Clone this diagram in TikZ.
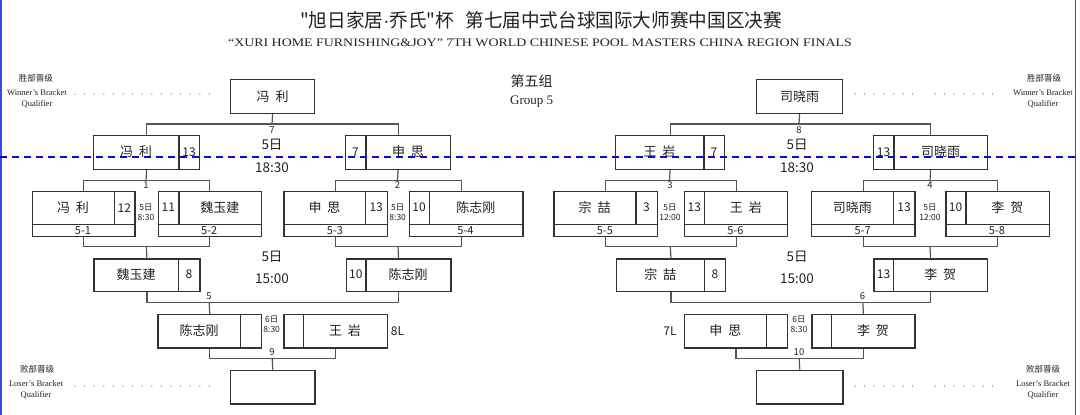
\documentclass[tikz,border=0pt]{standalone}
\usepackage{fontspec}
\setmainfont{Liberation Serif}
\newfontfamily\cjk{Noto Sans CJK SC}
\newfontfamily\lsans{Liberation Sans}
\usetikzlibrary{calc}
\definecolor{txt}{HTML}{222222}
\definecolor{bl}{HTML}{333333}
\definecolor{cn}{HTML}{555555}
\definecolor{dashblue}{RGB}{10,10,200}
\definecolor{edgeblue}{RGB}{70,70,225}
\newcommand{\gp}{\hspace{0.45em}}
% score right
\newcommand{\subSR}[9]{%
  \node[box, minimum width={#4-#2}, minimum height={#5-#3+11.4}] (#1) at (#2,#3) {};
  \draw[bline] (#2,#5) -- (#4,#5);
  \draw[bline] (#6,#3) -- (#6,#5);
  \node[nm] (#1-n) at ({(#2+#6)/2},{(#3+#5)/2}) {#7};
  \node[sc] (#1-s) at ({(#6+#4)/2},{(#3+#5)/2}) {#8};
  \node[subl] (#1-b) at ({(#2+#4)/2},{#5+5.9}) {#9};}
\newcommand{\subSL}[9]{%
  \node[box, minimum width={#4-#2}, minimum height={#5-#3+11.4}] (#1) at (#2,#3) {};
  \draw[bline] (#2,#5) -- (#4,#5);
  \draw[bline] (#6,#3) -- (#6,#5);
  \node[nm] (#1-n) at ({(#6+#4)/2},{(#3+#5)/2}) {#7};
  \node[sc] (#1-s) at ({(#2+#6)/2},{(#3+#5)/2}) {#8};
  \node[subl] (#1-b) at ({(#2+#4)/2},{#5+5.9}) {#9};}
\newcommand{\boxSR}[8]{%
  \node[box, minimum width={#4-#2}, minimum height={#5-#3}] (#1) at (#2,#3) {};
  \draw[bline] (#6,#3) -- (#6,#5);
  \node[nm] (#1-n) at ({(#2+#6)/2},{(#3+#5)/2}) {#7};
  \node[sc] (#1-s) at ({(#6+#4)/2},{(#3+#5)/2}) {#8};}
\newcommand{\boxSL}[8]{%
  \node[box, minimum width={#4-#2}, minimum height={#5-#3}] (#1) at (#2,#3) {};
  \draw[bline] (#6,#3) -- (#6,#5);
  \node[nm] (#1-n) at ({(#6+#4)/2},{(#3+#5)/2}) {#7};
  \node[sc] (#1-s) at ({(#2+#6)/2},{(#3+#5)/2}) {#8};}
\begin{document}
\begin{tikzpicture}[x=1pt,y=-1pt,
  box/.style={draw=bl, line width=1.2pt, inner sep=0pt, anchor=north west},
  bline/.style={draw=bl, line width=1.2pt},
  conn/.style={draw=cn, line width=1.2pt},
  nm/.style={inner sep=0pt, text=txt, font=\cjk\fontsize{13}{13}\selectfont},
  sc/.style={inner sep=0pt, text=txt, font=\cjk\fontsize{12}{12}\selectfont},
  subl/.style={inner sep=0pt, text=txt, font=\cjk\fontsize{11}{11}\selectfont},
  jl/.style={inner sep=0pt, text=txt, font=\cjk\fontsize{9.5}{9.5}\selectfont},
  tm/.style={inner sep=0pt, text=txt, font=\cjk\fontsize{13.5}{13.5}\selectfont},
  tms/.style={inner sep=0pt, text=txt, align=center, font=\cjk\fontsize{8.5}{10.5}\selectfont},
  ql/.style={inner sep=0pt, text=txt, align=center, font=\fontsize{8.5}{8.5}\selectfont},
  qc/.style={inner sep=0pt, text=txt, font=\cjk\fontsize{8.5}{8.5}\selectfont},
  leader/.style={draw=gray!90, line width=1.5pt, line cap=round, dash pattern=on 0pt off 9.6pt},
]
\useasboundingbox (0,0) rectangle (1080,415);
\fill[white] (0,0) rectangle (1080,415);

% titles
\node[inner sep=0pt, text=txt, font=\cjk\fontsize{19}{19}\selectfont] (title) at (541,20.5) {\scalebox{0.98}[1]{"旭日家居{\lsans ·}乔氏"杯\hspace{0.6em}第七届中式台球国际大师赛中国区决赛}};
\node[inner sep=0pt, text=txt, font=\fontsize{11.5}{11.5}\selectfont] (subtitle) at (540,43) {\scalebox{1.21}[1]{“XURI HOME FURNISHING\&JOY" 7TH WORLD CHINESE POOL MASTERS CHINA REGION FINALS}};
\node[inner sep=0pt, text=txt, font=\cjk\fontsize{14}{14}\selectfont] (grp) at (531.7,80.7) {第五组};
\node[inner sep=0pt, text=txt, font=\fontsize{13}{13}\selectfont] (grpen) at (531.7,102) {Group 5};

% qualifier labels
\node[qc] (wq1) at (36,78) {胜部晋级};
\node[ql] (wq1e) at (37,98.5) {Winner's Bracket\\[2pt]Qualifier};
\node[qc] (wq2) at (1044,78) {胜部晋级};
\node[ql] (wq2e) at (1043,98.5) {Winner's Bracket\\[2pt]Qualifier};
\node[qc] (lq1) at (37,369) {败部晋级};
\node[ql] (lq1e) at (36,389.5) {Loser's Bracket\\[2pt]Qualifier};
\node[qc] (lq2) at (1043,369) {败部晋级};
\node[ql] (lq2e) at (1043,389.5) {Loser's Bracket\\[2pt]Qualifier};

% top winner boxes
\node[box, minimum width=84pt, minimum height=34pt] (W7) at (230,79) {};
\node[nm] (W7-n) at (W7.center) {冯\gp 利};
\node[box, minimum width=86pt, minimum height=34pt] (W8) at (756,79) {};
\node[nm] (W8-n) at (W8.center) {司晓雨};

% leaders
\draw[leader] (75,94) -- (214,94);
\draw[leader] (855,94) -- (921,94);
\draw[leader] (935,94) -- (1001,94);
\draw[leader] (75,386) -- (214,386);
\draw[leader] (855,386) -- (921,386);
\draw[leader] (935,386) -- (1001,386);

% winner semifinal row
\boxSR{A1}{93}{135}{199}{169}{179}{冯\gp 利}{13}
\boxSL{A2}{345}{135}{450}{169}{366}{申\gp 思}{7}
\boxSR{A3}{615}{135}{724}{169}{704}{王\gp 岩}{7}
\boxSL{A4}{873}{135}{987}{169}{894}{司晓雨}{13}

% round 1
\subSR{B1}{31.7}{191}{134.3}{224.3}{114.3}{冯\gp 利}{12}{5-1}
\subSL{B2}{157.7}{191}{260.7}{224.3}{179}{魏玉建}{11}{5-2}
\subSR{B3}{283.3}{191}{386.7}{224.3}{365.7}{申\gp 思}{13}{5-3}
\subSL{B4}{408.7}{191}{522.3}{224.3}{429.3}{陈志刚}{10}{5-4}
\subSR{B5}{553.3}{191}{656.7}{224.3}{636}{宗\gp 喆}{3}{5-5}
\subSL{B6}{684}{191}{787}{224.3}{704.7}{王\gp 岩}{13}{5-6}
\subSR{B7}{811}{191}{914.3}{224.3}{893.7}{司晓雨}{13}{5-7}
\subSL{B8}{945.3}{191}{1048.7}{224.3}{966}{李\gp 贺}{10}{5-8}

% loser round
\boxSR{C1}{93.3}{258.3}{199.3}{291}{178.7}{魏玉建}{8}
\boxSL{C2}{345.7}{258.3}{450.3}{291}{366}{陈志刚}{10}
\boxSR{C3}{615.7}{258.3}{725}{291}{704.7}{宗\gp 喆}{8}
\boxSL{C4}{873.3}{258.3}{986.7}{291}{893.7}{李\gp 贺}{13}

% loser next
\boxSR{D1}{157.3}{314}{261}{347.3}{240.7}{陈志刚}{}
\boxSL{D2}{283.3}{314}{386.7}{347.3}{303.3}{王\gp 岩}{}
\boxSR{D3}{684}{314}{786.7}{347.3}{766.7}{申\gp 思}{}
\boxSL{D4}{811.3}{314}{914.3}{347.3}{831.7}{李\gp 贺}{}

% empty qualifier boxes
\node[box, minimum width=84.3pt, minimum height=33.6pt] (E9) at (230,369.7) {};
\node[box, minimum width=86.3pt, minimum height=33.6pt] (E10) at (756,369.7) {};

% junctions
\coordinate (j7) at (272,124);
\coordinate (j8) at (799,124);
\coordinate (j1) at (146,180.7);
\coordinate (j2) at (397.5,180.7);
\coordinate (j3) at (669.5,180.7);
\coordinate (j4) at (930,180.7);
\coordinate (k1) at (146.3,246.7);
\coordinate (k2) at (398,246.7);
\coordinate (k3) at (670.3,246.7);
\coordinate (k4) at (930,246.7);
\coordinate (m5) at (209.2,302.3);
\coordinate (m6) at (862.8,302.3);
\coordinate (n9) at (272.2,358.3);
\coordinate (n10) at (799.2,358.3);

\draw[conn] (A1.north) |- (j7) -| (A2.north);
\draw[conn] (W7.south) -- (j7);
\draw[conn] (A3.north) |- (j8) -| (A4.north);
\draw[conn] (W8.south) -- (j8);

\draw[conn] (B1.north) |- (j1) -| (B2.north);
\draw[conn] (A1.south) -- (j1);
\draw[conn] (B3.north) |- (j2) -| ([xshift=-4.8pt]B4.north);
\draw[conn] (A2.south) -- (j2);
\draw[conn] (B5.north) |- (j3) -| (B6.north);
\draw[conn] (A3.south) -- (j3);
\draw[conn] (B7.north) |- (j4) -| (B8.north);
\draw[conn] (A4.south) -- (j4);

\draw[conn] (B1.south) |- (k1) -| (B2.south);
\draw[conn] (k1) -- (C1.north);
\draw[conn] (B3.south) |- (k2) -| ([xshift=-4.8pt]B4.south);
\draw[conn] (k2) -- (C2.north);
\draw[conn] (B5.south) |- (k3) -| (B6.south);
\draw[conn] (k3) -- (C3.north);
\draw[conn] (B7.south) |- (k4) -| (B8.south);
\draw[conn] (k4) -- (C4.north);

\draw[conn] (C1.south) |- (m5) -| (C2.south);
\draw[conn] (m5) -- (D1.north);
\draw[conn] (C3.south) |- (m6) -| (C4.south);
\draw[conn] (m6) -- (D4.north);

\draw[conn] (D1.south) |- (n9) -| (D2.south);
\draw[conn] (n9) -- (E9.north);
\draw[conn] (D3.south) |- (n10) -| (D4.south);
\draw[conn] (n10) -- (E10.north);

% junction labels
\node[jl] (l7) at (272,129.8) {7};
\node[jl] (l8) at (799,129.8) {8};
\node[jl] (l1) at (146,185.5) {1};
\node[jl] (l2) at (397.5,185.5) {2};
\node[jl] (l3) at (670,185.5) {3};
\node[jl] (l4) at (930,185.5) {4};
\node[jl] (l5) at (209,296.5) {5};
\node[jl] (l6) at (862.5,296.5) {6};
\node[jl] (l9) at (272,352.5) {9};
\node[jl] (l10) at (799,352.5) {10};

% times
\node[tm] (t1a) at (272,145) {5日};
\node[tm] (t1b) at (272,167.3) {18:30};
\node[tm] (t2a) at (797,145) {5日};
\node[tm] (t2b) at (797,167.3) {18:30};
\node[tm] (t3a) at (272,257) {5日};
\node[tm] (t3b) at (272,279) {15:00};
\node[tm] (t4a) at (797,257) {5日};
\node[tm] (t4b) at (797,279) {15:00};
\node[tms] (s1) at (146,212.2) {5日\\8:30};
\node[tms] (s2) at (397.7,212.2) {5日\\8:30};
\node[tms] (s3) at (670,212.2) {5日\\12:00};
\node[tms] (s4) at (930,212.2) {5日\\12:00};
\node[tms] (s5) at (271.7,324.5) {6日\\8:30};
\node[tms] (s6) at (799,324.5) {6日\\8:30};
\node[sc] (x8) at (397.5,330.7) {8L};
\node[sc] (x7) at (670,330.7) {7L};

% borders and dashed line
\draw[edgeblue, line width=1.5pt] (1,0) -- (1,415);
\draw[edgeblue, line width=1.8pt] (1075.5,0) -- (1075.5,415);
\draw[dashblue, line width=1.6pt, dash pattern=on 7pt off 5pt] (0,157) -- (1080,157);
\end{tikzpicture}
\end{document}
